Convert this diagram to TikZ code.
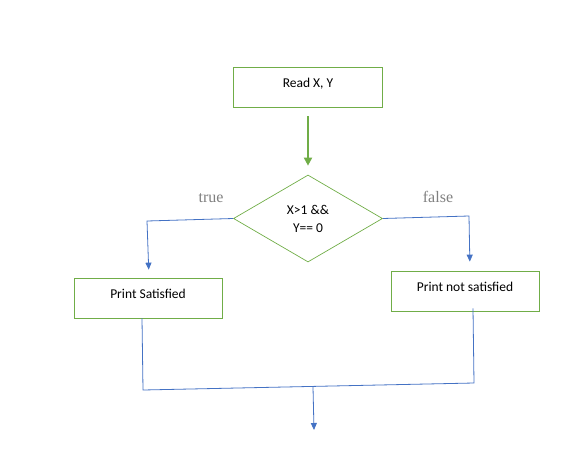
\documentclass[tikz,border=0pt]{standalone}
\usepackage{fontspec}
\setmainfont{Carlito}
\newfontfamily\labelfont{Liberation Serif}
\usepackage{xcolor}
\definecolor{boxgreen}{HTML}{70AD47}
\definecolor{flowblue}{HTML}{4472C4}
\definecolor{labelgray}{HTML}{808080}
\usetikzlibrary{shapes.geometric,arrows.meta,positioning}

\begin{document}
\begin{tikzpicture}[x=1pt, y=-1pt,
    stepbox/.style={rectangle, draw=boxgreen, fill=white, minimum width=149pt, minimum height=40pt, text height=9pt, text depth=9pt, font=\fontsize{13.5}{16}\selectfont, line width=0.7pt},
    decide/.style={diamond, draw=boxgreen, minimum width=149pt, minimum height=87pt, inner sep=0pt, align=center, font=\fontsize{13.5}{18}\selectfont, line width=0.7pt},
    blabel/.style={font=\labelfont\fontsize{16}{18}\selectfont, text=labelgray},
    flow/.style={-{Triangle[width=6pt,length=7pt]}, flowblue, line width=0.8pt},
    mainflow/.style={-{Triangle[width=8pt,length=8pt]}, boxgreen, line width=1.8pt}
  ]
    \useasboundingbox (0,0) rectangle (573,453);

    \node[stepbox] (read) at (308,87) {Read X, Y};
    \node[decide] (cond) at (308,218.5) {X>1 \&\&\\Y== 0};
    \node[stepbox, minimum width=148pt] (sat) at (148,298) {Print Satisfied};
    \node[stepbox, minimum width=148pt] (notsat) at (465,291) {Print not satisfied};

    \node[blabel] (truelbl) at (211,198) {true};
    \node[blabel] (falselbl) at (438,197) {false};

    \coordinate (tl) at (147,221);
    \coordinate (tr) at (469,216);
    \coordinate (bl) at (143,390);
    \coordinate (br) at (474,383);
    \coordinate (mid) at (313,387);
    \coordinate (out) at (314,430);

    \draw[mainflow, shorten <=9pt, shorten >=9pt] (read) -- (cond);
    \draw[flow, shorten >=8pt] (cond.west) -- (tl) -- ([xshift=1pt]sat.north);
    \draw[flow, shorten >=9pt] (cond.east) -- (tr) -- ([xshift=5pt]notsat.north);
    \draw[flowblue, line width=0.8pt] ([xshift=-6pt]sat.south) -- (bl) -- (br) -- ([xshift=8pt, yshift=3pt]notsat.south);
    \draw[flow] (mid) -- (out);
  \end{tikzpicture}
\end{document}
